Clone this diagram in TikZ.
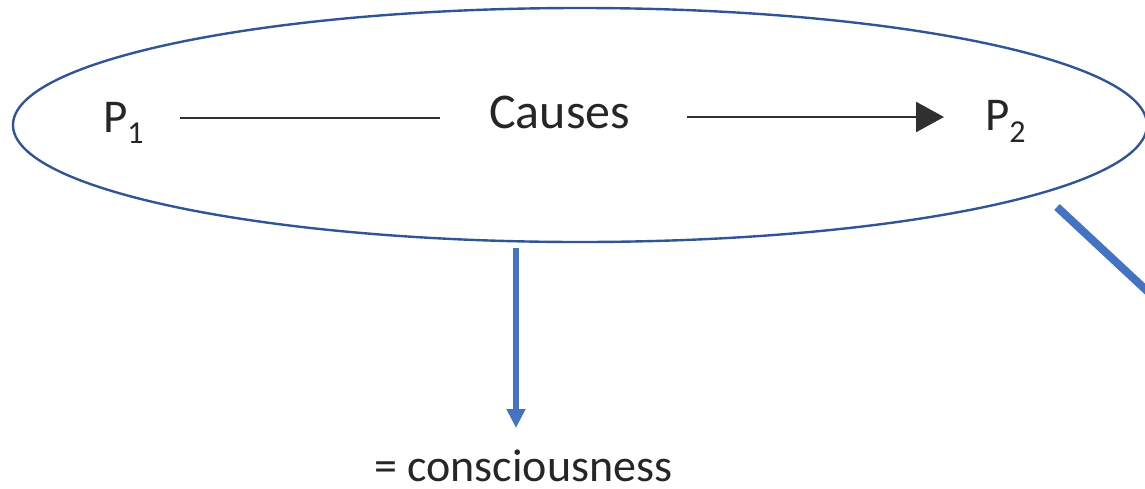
\documentclass[tikz,border=0pt]{standalone}
\usepackage{fontspec}
\setmainfont{Carlito}
\usetikzlibrary{arrows.meta,shapes.geometric}
\definecolor{ellblue}{HTML}{2F5597}
\definecolor{arrblue}{HTML}{4472C4}
\definecolor{txt}{HTML}{262626}
\definecolor{lin}{HTML}{303030}
\tikzset{
  lbl/.style={inner sep=0pt, anchor=base west, text=txt, font=\fontsize{47}{50}\selectfont},
  conn/.style={draw=lin, line width=2.6pt},
  bluearrow/.style={draw=arrblue, line width=6.5pt, -{Triangle[width=18pt,length=19pt]}},
  blueline/.style={draw=arrblue, line width=8pt},
}
\begin{document}
\begin{tikzpicture}[x=1pt,y=-1pt]
\useasboundingbox (0,0) rectangle (1145,488);
\clip (0,0) rectangle (1145,488);
% ellipse
\node[ellipse, draw=ellblue, line width=2.4pt, minimum width=1134pt, minimum height=234pt, inner sep=0pt] (ell) at (580,125) {};
% labels
\node[lbl] (p1) at (103,132) {P\raisebox{-11pt}{\fontsize{32}{34}\selectfont 1}};
\node[lbl, font=\fontsize{50}{52}\selectfont] (causes) at (489,128) {Causes};
\node[lbl] (p2) at (985,130) {P\raisebox{-12pt}{\fontsize{32}{34}\selectfont 2}};
\node[lbl, font=\fontsize{46}{50}\selectfont] (cons) at (374,481) {= consciousness};
% connector coordinates
\coordinate (a1) at (180,118);
\coordinate (a2) at (440,118);
\coordinate (b1) at (687,117);
\coordinate (b2) at (944,117);
\draw[conn] (a1) -- (a2);
\draw[conn, -{Triangle[width=30pt,length=28pt]}] (b1) -- (b2);
% blue arrow to consciousness
\coordinate (d1) at (516,248);
\coordinate (d2) at (516,428);
\draw[bluearrow] (d1) -- (d2);
% diagonal blue line leaving the picture
\coordinate (e1) at (1057,207);
\coordinate (e2) at (1175,317);
\draw[blueline] (e1) -- (e2);
\end{tikzpicture}
\end{document}
